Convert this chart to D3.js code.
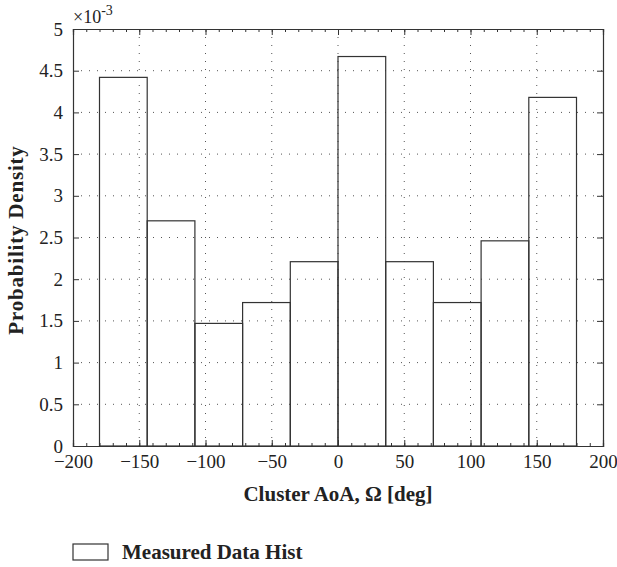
<!DOCTYPE html>
<html>
<head>
<meta charset="utf-8">
<script src="https://cdn.jsdelivr.net/npm/d3@7"></script>
<style>
body { margin: 0; background: #fff; }
text { font-family: "Liberation Serif", "DejaVu Serif", serif; fill: #222; }
</style>
</head>
<body>
<div id="chart"></div>
<script>
// histogram bins (deg) and density values (x1e-3)
var binEdges = [-180, -144, -108, -72, -36, 0, 36, 72, 108, 144, 180];
var density = [4.42, 2.70, 1.47, 1.72, 2.21, 4.67, 2.21, 1.72, 2.46, 4.18];
var xTicks = [-200, -150, -100, -50, 0, 50, 100, 150, 200];
var yTicks = [0, 0.5, 1, 1.5, 2, 2.5, 3, 3.5, 4, 4.5, 5];

var width = 617, height = 567;
var margin = {left: 73, right: 14, top: 29, bottom: 121};
var w = width - margin.left - margin.right;
var h = height - margin.top - margin.bottom;
var stroke = "#333";

var svg = d3.select("#chart").append("svg")
    .attr("width", width)
    .attr("height", height);

var g = svg.append("g")
    .attr("transform", "translate(" + margin.left + "," + margin.top + ")");

var x = d3.scaleLinear().domain([-200, 200]).range([0, w]);
var y = d3.scaleLinear().domain([0, 5]).range([h, 0]);

// dotted grid
g.selectAll("line.gx")
    .data(xTicks.slice(1, -1))
    .enter().append("line")
      .attr("class", "gx")
      .attr("x1", function(d){ return x(d); })
      .attr("x2", function(d){ return x(d); })
      .attr("y1", 0).attr("y2", h)
      .attr("stroke", "#555").attr("stroke-width", 1)
      .attr("stroke-dasharray", "1,7");

g.selectAll("line.gy")
    .data(yTicks.slice(1, -1))
    .enter().append("line")
      .attr("class", "gy")
      .attr("y1", function(d){ return y(d); })
      .attr("y2", function(d){ return y(d); })
      .attr("x1", 0).attr("x2", w)
      .attr("stroke", "#555").attr("stroke-width", 1)
      .attr("stroke-dasharray", "1,7");

// bars
g.selectAll("rect.bar")
    .data(density)
    .enter().append("rect")
      .attr("class", "bar")
      .attr("x", function(d, i){ return x(binEdges[i]); })
      .attr("width", function(d, i){ return x(binEdges[i+1]) - x(binEdges[i]); })
      .attr("y", function(d){ return y(d); })
      .attr("height", function(d){ return h - y(d); })
      .attr("fill", "none")
      .attr("stroke", stroke)
      .attr("stroke-width", 1.2);

// axes (ticks pointing inward)
var minor = d3.range(-200, 201, 10);

var xBottom = d3.axisBottom(x).tickValues(xTicks).tickSize(-6).tickPadding(9)
    .tickFormat(function(d){ return d < 0 ? "\u2212" + Math.abs(d) : d; });
var xBottomMinor = d3.axisBottom(x).tickValues(minor).tickSize(-3).tickFormat("");
var xTop = d3.axisTop(x).tickValues(xTicks).tickSize(-6).tickFormat("");
var xTopMinor = d3.axisTop(x).tickValues(minor).tickSize(-3).tickFormat("");
var yLeft = d3.axisLeft(y).tickValues(yTicks).tickSize(-6).tickPadding(10)
    .tickFormat(function(d){ return d; });
var yRight = d3.axisRight(y).tickValues(yTicks).tickSize(-6).tickFormat("");

function styleAxis(sel) {
  sel.selectAll("path").attr("stroke", stroke).attr("stroke-width", 1.2);
  sel.selectAll("line").attr("stroke", stroke);
  sel.selectAll("text").attr("font-size", 19).attr("fill", "#222")
      .attr("font-family", "Liberation Serif, DejaVu Serif, serif");
}

g.append("g").attr("transform", "translate(0," + h + ")").call(xBottomMinor).call(styleAxis);
g.append("g").attr("transform", "translate(0," + h + ")").call(xBottom).call(styleAxis);
g.append("g").call(xTopMinor).call(styleAxis);
g.append("g").call(xTop).call(styleAxis);
g.append("g").call(yLeft).call(styleAxis);
g.append("g").attr("transform", "translate(" + w + ",0)").call(yRight).call(styleAxis);

// exponent label
var ex = svg.append("text")
    .attr("x", margin.left)
    .attr("y", 23)
    .attr("font-size", 18);
ex.append("tspan").text("\u00d710");
ex.append("tspan").attr("dy", -8).attr("font-size", 14).text("-3");

// axis labels
svg.append("text")
    .attr("x", margin.left + w / 2)
    .attr("y", 501)
    .attr("text-anchor", "middle")
    .attr("font-size", 21)
    .attr("font-weight", "bold")
    .text("Cluster AoA, \u03a9 [deg]");

svg.append("text")
    .attr("transform", "translate(23,240) rotate(-90)")
    .attr("text-anchor", "middle")
    .attr("font-size", 21)
    .attr("letter-spacing", 0.8)
    .attr("font-weight", "bold")
    .text("Probability Density");

// legend
svg.append("rect")
    .attr("x", margin.left).attr("y", 544)
    .attr("width", 35).attr("height", 16)
    .attr("fill", "none").attr("stroke", stroke).attr("stroke-width", 1.2);

svg.append("text")
    .attr("x", 122).attr("y", 559)
    .attr("font-size", 21)
    .attr("font-weight", "bold")
    .text("Measured Data Hist");
</script>
</body>
</html>
